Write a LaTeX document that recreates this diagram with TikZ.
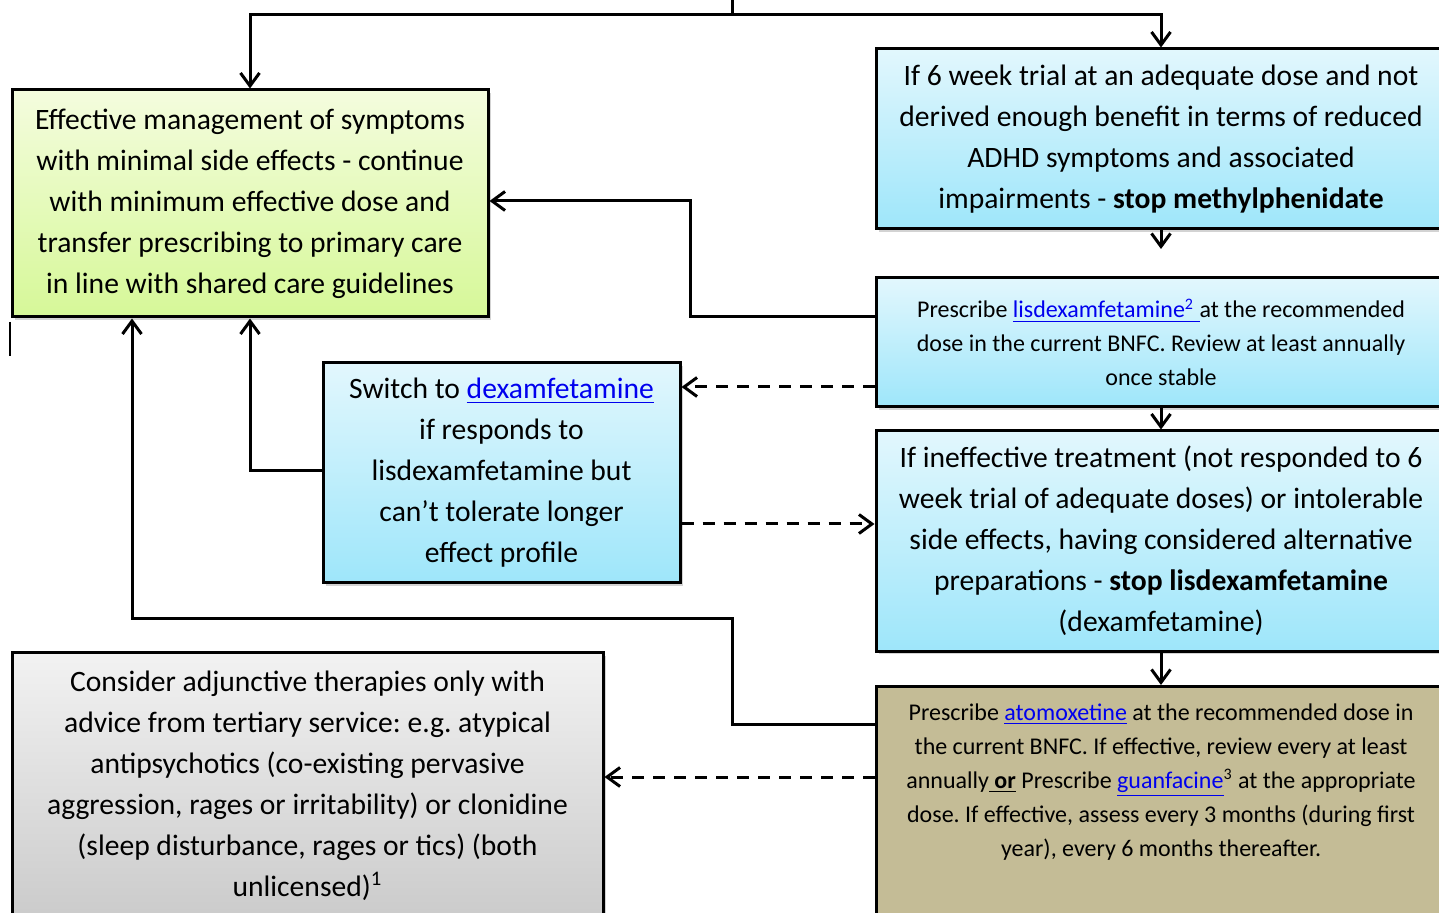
\documentclass[tikz,border=0pt]{standalone}
\usepackage{fontspec}
\setmainfont{Carlito}
\usetikzlibrary{arrows.meta,shadows}

\definecolor{greentop}{RGB}{244,252,222}
\definecolor{greenbot}{RGB}{214,248,152}
\definecolor{bluetop}{RGB}{226,247,253}
\definecolor{bluebot}{RGB}{158,230,250}
\definecolor{graytop}{RGB}{242,242,242}
\definecolor{graybot}{RGB}{186,186,186}
\definecolor{atomtan}{RGB}{196,188,150}
\definecolor{linkblue}{RGB}{0,0,238}

\newcommand{\link}[1]{\textcolor{linkblue}{\underline{#1}}}
\frenchspacing

\begin{document}
\begin{tikzpicture}[x=0.5pt,y=-0.5pt]
  \tikzstyle{mybox}=[draw, line width=1.5pt, rectangle, align=center, inner sep=0pt,
    drop shadow={shadow xshift=1.5pt, shadow yshift=-1.5pt, opacity=0.35}]
  \tikzstyle{greenbox}=[mybox, top color=greentop, bottom color=greenbot]
  \tikzstyle{bluebox}=[mybox, top color=bluetop, bottom color=bluebot]
  \tikzstyle{graybox}=[mybox, top color=graytop, bottom color=graybot]
  \tikzstyle{tanbox}=[mybox, fill=atomtan]
  \tikzstyle{bigtext}=[font=\fontsize{14.8}{20.5}\selectfont]
  \tikzstyle{smalltext}=[font=\fontsize{12}{17}\selectfont]
  \tikzstyle{arrow}=[-{Straight Barb[length=6.5pt,width=9.5pt]}, line width=1.5pt]
  \tikzstyle{dashline}=[dash pattern=on 6pt off 4.5pt]

  \useasboundingbox (0,0) rectangle (1439,913);
  \clip (0,0) rectangle (1439,913);

  \node[greenbox, bigtext, minimum width=238pt, minimum height=113.5pt] (Effective) at (250,203.5)
    {Effective management of symptoms\\with minimal side effects - continue\\with minimum effective dose and\\transfer prescribing to primary care\\in line with shared care guidelines};

  \node[bluebox, bigtext, minimum width=285pt, minimum height=90pt] (StopMPH) at (1161,139)
    {If 6 week trial at an adequate dose and not\\derived enough benefit in terms of reduced\\ADHD symptoms and associated\\impairments - \textbf{stop methylphenidate}};

  \node[bluebox, smalltext, minimum width=285pt, minimum height=64.5pt] (Lisdex) at (1161,342.5)
    {Prescribe \link{lisdexamfetamine\textsuperscript{2}\ }at the recommended\\dose in the current BNFC. Review at least annually\\once stable};

  \node[bluebox, bigtext, minimum width=178.5pt, minimum height=110pt] (Dexam) at (501.5,473)
    {Switch to \link{dexamfetamine}\\if responds to\\lisdexamfetamine but\\can’t tolerate longer\\effect profile};

  \node[bluebox, bigtext, minimum width=285pt, minimum height=110pt] (StopLDX) at (1161,541)
    {If ineffective treatment (not responded to 6\\week trial of adequate doses) or intolerable\\side effects, having considered alternative\\preparations - \textbf{stop lisdexamfetamine}\\(dexamfetamine)};

  \node[tanbox, smalltext, anchor=north, minimum width=285pt, inner ysep=8.5pt, text depth=120pt] (Atomox) at (1161,685)
    {Prescribe \link{atomoxetine} at the recommended dose in\\the current BNFC. If effective, review every at least\\annually\underline{ \textbf{or}} Prescribe \link{guanfacine}\textsuperscript{3} at the appropriate\\dose. If effective, assess every 3 months (during first\\year), every 6 months thereafter.};

  \node[graybox, bigtext, anchor=north, minimum width=295.5pt, inner ysep=9pt, text depth=60pt] (Adjunct) at (307.5,651)
    {Consider adjunctive therapies only with\\advice from tertiary service: e.g. atypical\\antipsychotics (co-existing pervasive\\aggression, rages or irritability) or clonidine\\(sleep disturbance, rages or tics) (both\\unlicensed)\textsuperscript{1}};

  % links from above
  \coordinate (Top) at (732,0);
  \draw[line width=1.5pt] (Top) -- (732,15);
  \draw[arrow] (732,15) -| (Effective.north);
  \draw[arrow] (732,15) -| (StopMPH.north);

  \coordinate (MPHend) at (1161,249);
  \draw[arrow] (StopMPH.south) -- (MPHend);
  \draw[arrow] (Lisdex.south) -- (StopLDX.north);
  \draw[arrow] (StopLDX.south) -- (Atomox.north);

  \draw[arrow] (Lisdex.west |- 0,317) -- (690,317) |- (Effective.east |- 0,201);
  \draw[arrow, dashline] (Lisdex.west |- 0,387) -- (Dexam.east |- 0,387);
  \draw[arrow, dashline] (Dexam.east |- 0,524) -- (StopLDX.west |- 0,524);
  \draw[arrow] (Dexam.west |- 0,471) -| (Effective.south);
  \draw[arrow] (Atomox.west |- 0,724) -- (732,724) |- (132,619) -- (Effective.south -| 132,0);
  \draw[arrow, dashline] (Atomox.west |- 0,777) -- (Adjunct.east |- 0,777);

  \draw[line width=0.8pt] (10,322) -- (10,356);
\end{tikzpicture}
\end{document}
